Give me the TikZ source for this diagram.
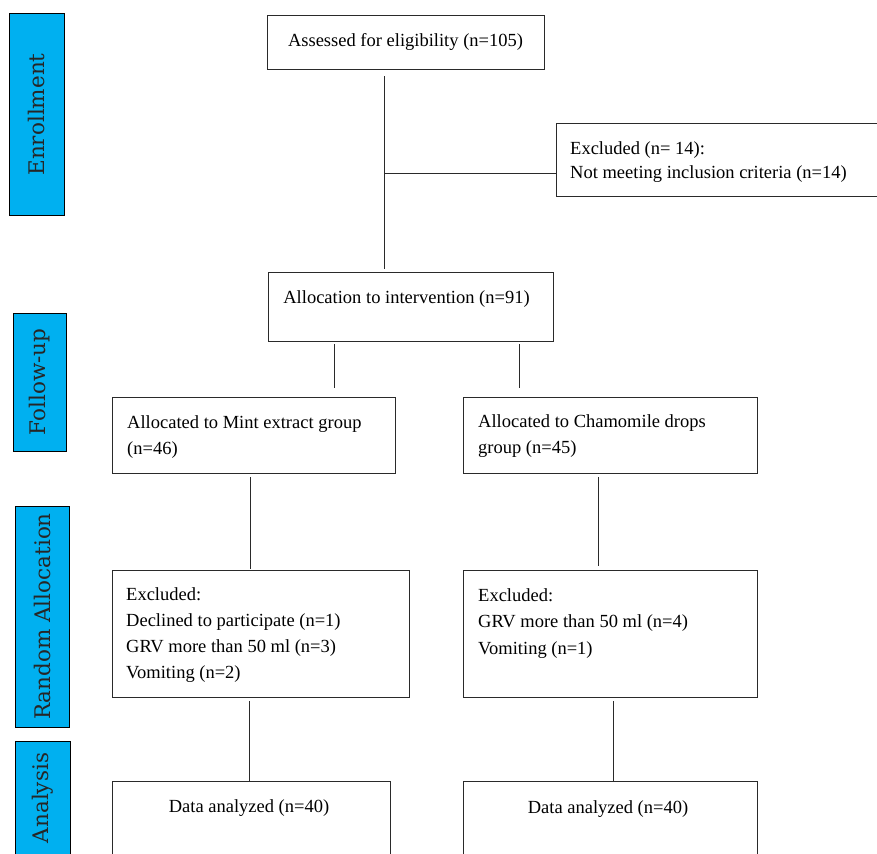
\documentclass[tikz,border=0pt]{standalone}
\usepackage{fontspec}
\setmainfont{Liberation Serif}
\newfontfamily\labfont{DejaVu Serif}
\usetikzlibrary{calc}
\definecolor{phaseblue}{HTML}{00B0F0}
\definecolor{edge}{HTML}{2A2A2A}
\begin{document}
\begin{tikzpicture}[x=1pt,y=-1pt,
  phase/.style={draw=black, line width=1pt, fill=phaseblue, rotate=90, inner sep=0pt,
    font=\labfont\fontsize{21.5}{24}\selectfont, text=black!85},
  box/.style={draw=edge, line width=1.2pt, anchor=north west, inner sep=0pt},
  txt/.style={inner sep=0pt, font=\fontsize{18.5}{26.3}\selectfont, text=black},
  conn/.style={draw=edge, line width=1pt}]
\useasboundingbox (0,0) rectangle (877,853);
\clip (0,0) rectangle (877,853);
\fill[white] (0,0) rectangle (877,853);

% phase labels
\node[phase, minimum width=201pt, minimum height=55pt] (enr) at (36.5,114.5) {Enrollment};
\node[phase, minimum width=138pt, minimum height=53pt] (fol) at (39.5,382) {Follow-up};
\node[phase, minimum width=221pt, minimum height=54pt] (ran) at (42,616.5) {Random Allocation};
\node[phase, minimum width=114pt, minimum height=55pt] (ana) at (42.5,798) {Analysis};

% boxes
\node[box, minimum width=277pt, minimum height=54pt] (A) at (267,15) {};
\node[box, minimum width=321pt, minimum height=73pt] (Ex) at (556,123) {};
\node[box, minimum width=285pt, minimum height=69pt] (Al) at (268,272) {};
\node[box, minimum width=283.5pt, minimum height=76pt] (M) at (111.5,397) {};
\node[box, minimum width=294pt, minimum height=76pt] (C) at (463,397) {};
\node[box, minimum width=297pt, minimum height=127pt] (EL) at (111.5,570) {};
\node[box, minimum width=294pt, minimum height=127pt] (ER) at (463,570) {};
\node[box, minimum width=278pt, minimum height=90pt] (DL) at (111.5,780.5) {};
\node[box, minimum width=294pt, minimum height=90pt] (DR) at (463,780.5) {};

% texts
\node[txt, anchor=base] (tA) at (405.5,47) {Assessed for eligibility (n=105)};
\node[txt, anchor=base west, font=\fontsize{18.5}{24}\selectfont] (tEx) at (570,155)
  {\begin{tabular}[t]{@{}l@{}}Excluded (n= 14):\\Not meeting inclusion criteria (n=14)\end{tabular}};
\node[txt, anchor=base] (tAl) at (406.5,303) {Allocation to intervention (n=91)};
\node[txt, anchor=base west] (tM) at (127,428)
  {\begin{tabular}[t]{@{}l@{}}Allocated to Mint extract group\\(n=46)\end{tabular}};
\node[txt, anchor=base west] (tC) at (478,427)
  {\begin{tabular}[t]{@{}l@{}}Allocated to Chamomile drops\\group (n=45)\end{tabular}};
\node[txt, anchor=base west] (tEL) at (126,600)
  {\begin{tabular}[t]{@{}l@{}}Excluded:\\Declined to participate (n=1)\\GRV more than 50 ml (n=3)\\Vomiting (n=2)\end{tabular}};
\node[txt, anchor=base west] (tER) at (478,601.5)
  {\begin{tabular}[t]{@{}l@{}}Excluded:\\GRV more than 50 ml (n=4)\\Vomiting (n=1)\end{tabular}};
\node[txt, anchor=base] (tDL) at (249,812) {Data analyzed (n=40)};
\node[txt, anchor=base] (tDR) at (608,813) {Data analyzed (n=40)};

% connectors
\coordinate (tk) at (384,0);
\coordinate (br) at (384,174);
\draw[conn, shorten <=6pt, shorten >=3pt] (tk |- A.south) -- (tk |- Al.north);
\draw[conn] (br) -- (br -| Ex.west);
\coordinate (s1) at (334,0);
\coordinate (s2) at (519,0);
\draw[conn, shorten <=2pt, shorten >=9pt] (s1 |- Al.south) -- (s1 |- M.north);
\draw[conn, shorten <=2pt, shorten >=9pt] (s2 |- Al.south) -- (s2 |- C.north);
\coordinate (m1) at (250,0);
\coordinate (m2) at (598,0);
\draw[conn, shorten <=3pt, shorten >=1pt] (m1 |- M.south) -- (m1 |- EL.north);
\draw[conn, shorten <=3pt, shorten >=4pt] (m2 |- C.south) -- (m2 |- ER.north);
\coordinate (e1) at (249,0);
\coordinate (e2) at (613,0);
\draw[conn, shorten <=3pt] (e1 |- EL.south) -- (e1 |- DL.north);
\draw[conn, shorten <=3pt] (e2 |- ER.south) -- (e2 |- DR.north);
\end{tikzpicture}
\end{document}
